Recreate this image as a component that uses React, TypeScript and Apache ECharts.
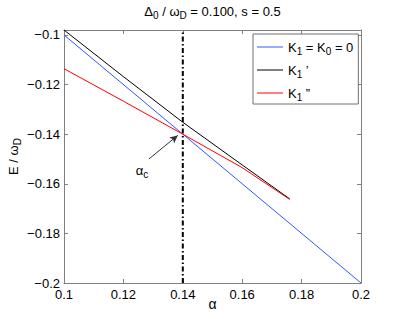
import React, { useEffect, useRef } from "react";
import * as echarts from "echarts";

const xTicks = [0.1, 0.12, 0.14, 0.16, 0.18, 0.2];
const yTicks = [-0.2, -0.18, -0.16, -0.14, -0.12, -0.1];
const xMin = 0.1;
const xMax = 0.2;
const yMin = -0.2;
const yMax = -0.098;

const alphaBlue = [0.1, 0.2];
const eBlue = [-0.1, -0.2];

const alphaBlack = [0.1, 0.12, 0.14, 0.16, 0.176];
const eBlack = [-0.098, -0.1168, -0.1352, -0.1524, -0.1661];

const alphaRed = [0.1, 0.12, 0.14, 0.16, 0.176];
const eRed = [-0.1136, -0.1267, -0.14, -0.1535, -0.1663];

const alphaC = 0.14;
const arrowFrom = [0.1286, -0.15];
const arrowTo = [0.1383, -0.1405];
const labelPos = [0.1263, -0.1546];

const seriesNames = ["K1 = K0 = 0", "K1 '", "K1 ''"];
const seriesColors = ["#3355ff", "#000000", "#ff0000"];
const legendRich = [
  "{n|K}{s|1}{n| = K}{s|0}{n| = 0}",
  "{n|K}{s|1}{n| ’}",
  "{n|K}{s|1}{n| ”}",
];

const FONT = "'Liberation Sans', Arial, Helvetica, sans-serif";
const FS = 13;
const rich = {
  n: { fontSize: FS, lineHeight: 15, fontFamily: FONT, color: "#000" },
  s: { fontSize: 10, lineHeight: 10, padding: [9, 0, 0, 0], fontFamily: FONT, color: "#000" },
};

const fmt = (v: number) => String(+v.toFixed(3)).replace("-", "\u2212");

export default function App() {
  const ref = useRef<HTMLDivElement>(null);
  useEffect(() => {
    if (!ref.current) return;
    const chart = echarts.init(ref.current, undefined, { renderer: "svg" });
    const axisLineStyle = { color: "#808080", width: 1 };
    const zip = (a: number[], b: number[]) => a.map((x, i) => [x, b[i]]);
    chart.setOption({
      animation: false,
      backgroundColor: "#fff",
      grid: { left: 64, right: 38, top: 30, bottom: 36, containLabel: false },
      xAxis: [
        {
          type: "value",
          min: xMin,
          max: xMax,
          interval: 0.02,
          axisLine: { show: true, onZero: false, lineStyle: axisLineStyle },
          axisTick: { show: true, inside: true, length: 4, lineStyle: axisLineStyle },
          splitLine: { show: false },
          axisLabel: {
            margin: 5,
            fontSize: FS,
            fontFamily: FONT,
            color: "#000",
            formatter: (v: number) => (xTicks.some((t) => Math.abs(t - v) < 1e-9) ? fmt(v) : ""),
          },
        },
        {
          type: "value",
          position: "top",
          min: xMin,
          max: xMax,
          interval: 0.02,
          axisLine: { show: true, onZero: false, lineStyle: axisLineStyle },
          axisTick: { show: true, inside: true, length: 4, lineStyle: axisLineStyle },
          splitLine: { show: false },
          axisLabel: { show: false },
        },
      ],
      yAxis: [
        {
          type: "value",
          min: yMin,
          max: yMax,
          interval: 0.02,
          axisLine: { show: true, onZero: false, lineStyle: axisLineStyle },
          axisTick: { show: true, inside: true, length: 4, lineStyle: axisLineStyle },
          splitLine: { show: false },
          axisLabel: {
            margin: 4,
            fontSize: FS,
            fontFamily: FONT,
            color: "#000",
            showMaxLabel: false,
            formatter: (v: number) => (yTicks.some((t) => Math.abs(t - v) < 1e-9) ? fmt(v) : ""),
          },
        },
        {
          type: "value",
          position: "right",
          min: yMin,
          max: yMax,
          interval: 0.02,
          axisLine: { show: true, onZero: false, lineStyle: axisLineStyle },
          axisTick: { show: true, inside: true, length: 4, lineStyle: axisLineStyle },
          splitLine: { show: false },
          axisLabel: { show: false },
        },
      ],
      legend: {
        orient: "vertical",
        left: 253,
        top: 34,
        padding: [3.5, 5, 1.5, 4],
        itemGap: 4,
        itemWidth: 26,
        itemHeight: 1,
        icon: "rect",
        borderColor: "#707070",
        borderWidth: 1,
        backgroundColor: "#fff",
        data: seriesNames,
        textStyle: { fontSize: FS, fontFamily: FONT, rich },
        formatter: (name: string) => legendRich[seriesNames.indexOf(name)],
      },
      series: [
        {
          name: seriesNames[0],
          type: "line",
          data: zip(alphaBlue, eBlue),
          symbol: "none",
          lineStyle: { color: seriesColors[0], width: 1 },
          itemStyle: { color: seriesColors[0] },
        },
        {
          name: seriesNames[1],
          type: "line",
          data: zip(alphaBlack, eBlack),
          symbol: "none",
          lineStyle: { color: seriesColors[1], width: 1 },
          itemStyle: { color: seriesColors[1] },
        },
        {
          name: seriesNames[2],
          type: "line",
          data: zip(alphaRed, eRed),
          symbol: "none",
          lineStyle: { color: seriesColors[2], width: 1 },
          itemStyle: { color: seriesColors[2] },
        },
        {
          name: "alphaC",
          type: "line",
          data: [
            [alphaC, yMin],
            [alphaC, yMax],
          ],
          symbol: "none",
          z: 1,
          lineStyle: { color: "#000", width: 2, type: [5, 2.5, 1.5, 2.5] },
          markLine: {
            silent: true,
            animation: false,
            label: { show: false },
            lineStyle: { color: "#333", width: 1, type: "solid" },
            data: [
              [
                { coord: arrowFrom, symbol: "none" },
                { coord: arrowTo, symbol: "arrow", symbolSize: [6, 8] },
              ],
            ],
          },
          markPoint: {
            silent: true,
            animation: false,
            symbol: "circle",
            symbolSize: 0,
            data: [
              {
                coord: labelPos,
                label: {
                  show: true,
                  position: "inside",
                  formatter: "{n|α}{s|c}",
                  rich,
                },
              },
            ],
          },
        },
      ],
      graphic: [
        {
          type: "text",
          x: 212.5,
          y: 11,
          style: {
            text: "{n|Δ}{s|0}{n| / ω}{s|D}{n| = 0.100, s = 0.5}",
            rich,
            align: "center",
            verticalAlign: "middle",
          },
        },
        {
          type: "text",
          x: 13,
          y: 156.5,
          rotation: Math.PI / 2,
          style: {
            text: "{n|E / ω}{s|D}",
            rich,
            align: "center",
            verticalAlign: "middle",
          },
        },
        {
          type: "text",
          x: 212.5,
          y: 304,
          style: {
            text: "α",
            fontSize: FS + 1,
            fontFamily: FONT,
            fill: "#000",
            align: "center",
            verticalAlign: "middle",
          },
        },
      ],
    });
    return () => chart.dispose();
  }, []);
  return <div ref={ref} style={{ width: 399, height: 319, position: "absolute", left: 0, top: 0 }} />;
}
